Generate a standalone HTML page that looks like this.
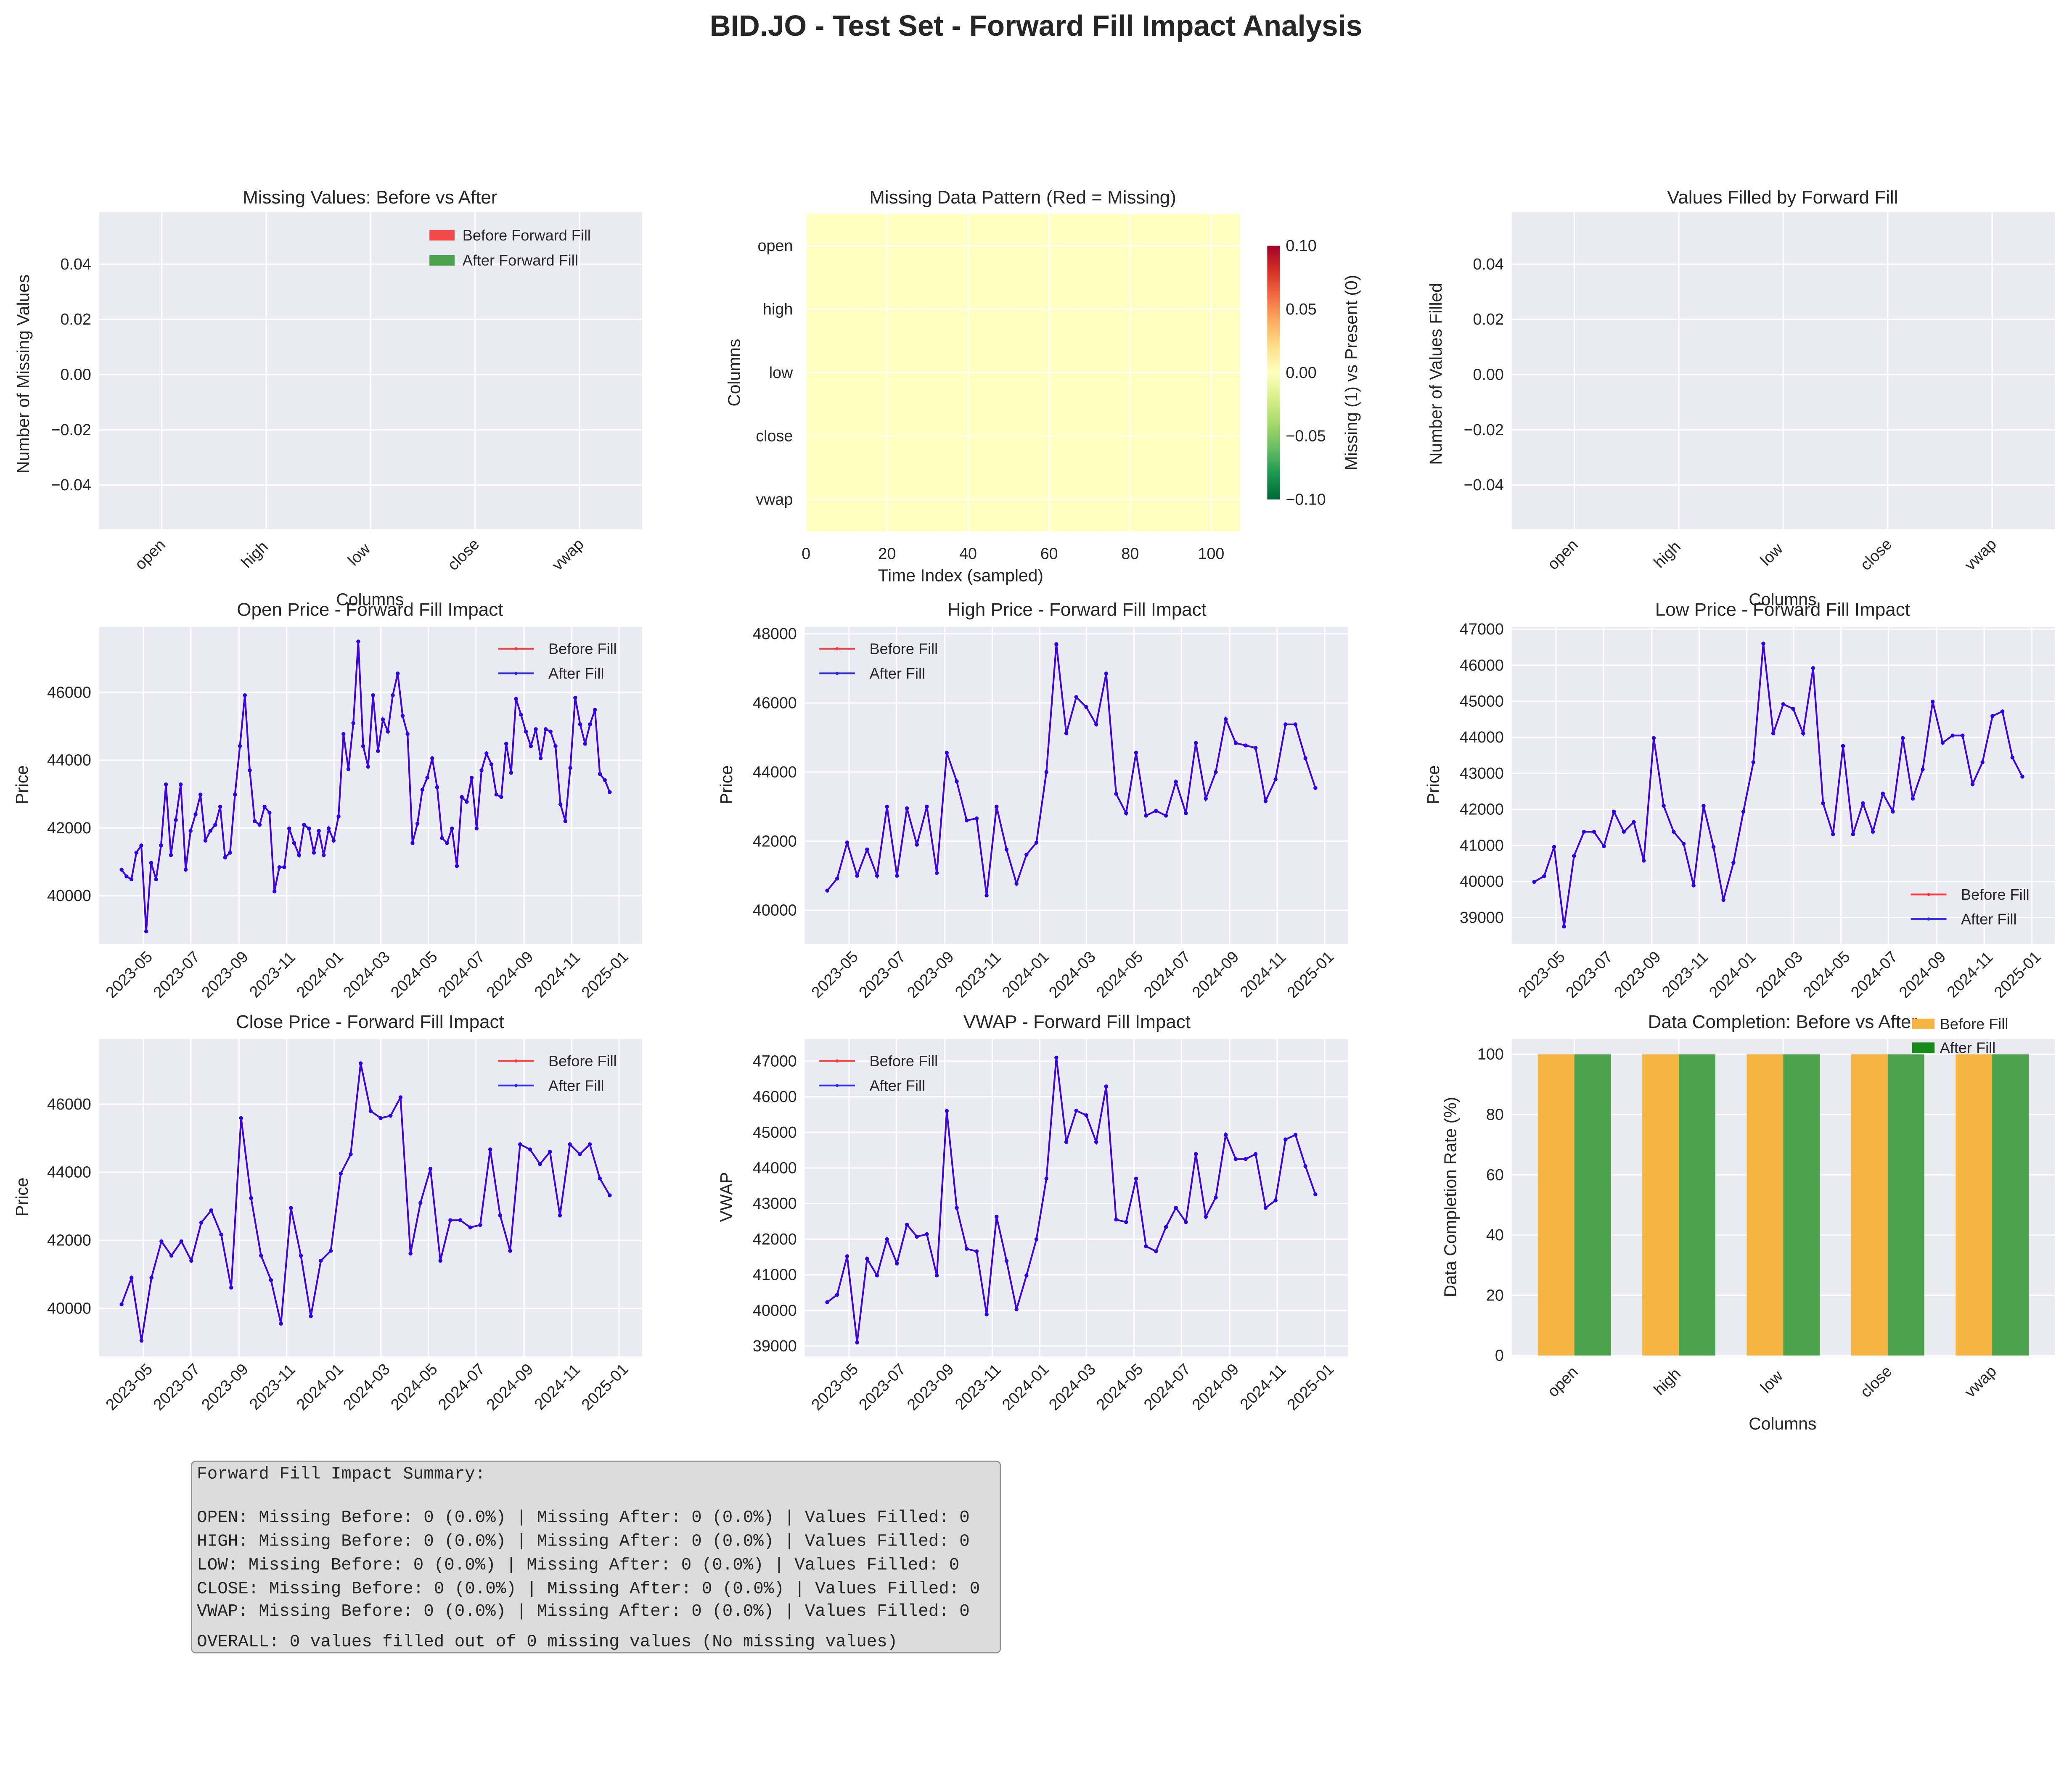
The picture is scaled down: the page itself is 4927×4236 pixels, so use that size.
<!DOCTYPE html>
<html><head><meta charset="utf-8"><title>BID.JO Forward Fill Impact Analysis</title>
<style>
html,body{margin:0;padding:0;background:#fff;}
svg{display:block;font-family:"Liberation Sans",Arial,sans-serif;}
.t{fill:#262626;}
</style></head>
<body>
<svg id="fig" xmlns="http://www.w3.org/2000/svg" width="4927" height="4236" viewBox="0 0 1568 1348">
<defs>
<linearGradient id="rdylgn" x1="0" y1="0" x2="0" y2="1">
<stop offset="0" stop-color="#a50026"/><stop offset="0.1" stop-color="#d73027"/><stop offset="0.2" stop-color="#f46d43"/><stop offset="0.3" stop-color="#fdae61"/><stop offset="0.4" stop-color="#fee08b"/><stop offset="0.5" stop-color="#ffffbf"/><stop offset="0.6" stop-color="#d9ef8b"/><stop offset="0.7" stop-color="#a6d96a"/><stop offset="0.8" stop-color="#66bd63"/><stop offset="0.9" stop-color="#1a9850"/><stop offset="1" stop-color="#006837"/>
</linearGradient>
</defs>
<rect x="0" y="0" width="1568" height="1348" fill="#ffffff"/>
<text x="784" y="27" text-anchor="middle" font-size="22" font-weight="bold" class="t">BID.JO - Test Set - Forward Fill Impact Analysis</text>

<text x="280" y="154" text-anchor="middle" font-size="14" class="t">Missing Values: Before vs After</text>
<text x="774" y="154" text-anchor="middle" font-size="14" class="t">Missing Data Pattern (Red = Missing)</text>
<text x="1349" y="154" text-anchor="middle" font-size="14" class="t">Values Filled by Forward Fill</text>
<text x="280" y="466" text-anchor="middle" font-size="14" class="t">Open Price - Forward Fill Impact</text>
<text x="815" y="466" text-anchor="middle" font-size="14" class="t">High Price - Forward Fill Impact</text>
<text x="1349" y="466" text-anchor="middle" font-size="14" class="t">Low Price - Forward Fill Impact</text>
<text x="280" y="778" text-anchor="middle" font-size="14" class="t">Close Price - Forward Fill Impact</text>
<text x="815" y="778" text-anchor="middle" font-size="14" class="t">VWAP - Forward Fill Impact</text>
<text x="1349" y="778" text-anchor="middle" font-size="14" class="t">Data Completion: Before vs After</text>

<text transform="translate(22,283) rotate(-90)" text-anchor="middle" font-size="13" class="t">Number of Missing Values</text>
<text x="280" y="458" text-anchor="middle" font-size="13" class="t">Columns</text>
<text transform="translate(1091,283) rotate(-90)" text-anchor="middle" font-size="13" class="t">Number of Values Filled</text>
<text x="1349" y="458" text-anchor="middle" font-size="13" class="t">Columns</text>
<text transform="translate(560,282) rotate(-90)" text-anchor="middle" font-size="13" class="t">Columns</text>
<text x="727" y="440" text-anchor="middle" font-size="13" class="t">Time Index (sampled)</text>
<text transform="translate(1027,282) rotate(-90)" text-anchor="middle" font-size="13" class="t">Missing (1) vs Present (0)</text>
<text transform="translate(21,594) rotate(-90)" text-anchor="middle" font-size="13" class="t">Price</text>
<text transform="translate(554,594) rotate(-90)" text-anchor="middle" font-size="13" class="t">Price</text>
<text transform="translate(1089,594) rotate(-90)" text-anchor="middle" font-size="13" class="t">Price</text>
<text transform="translate(21,906) rotate(-90)" text-anchor="middle" font-size="13" class="t">Price</text>
<text transform="translate(554,906) rotate(-90)" text-anchor="middle" font-size="13" class="t">VWAP</text>
<text transform="translate(1102,906) rotate(-90)" text-anchor="middle" font-size="13" class="t">Data Completion Rate (%)</text>
<text x="1349" y="1082" text-anchor="middle" font-size="13" class="t">Columns</text>

<g id="layer"></g>

<g>
<rect x="145" y="1106" width="612" height="145" rx="3" fill="#dcdcdc" stroke="#8c8c8c" stroke-width="0.8"/>
<g font-family="'Liberation Mono','DejaVu Sans Mono',monospace" font-size="13" class="t">
<text x="149" y="1119">Forward Fill Impact Summary:</text>
<text x="149" y="1152">OPEN: Missing Before: 0 (0.0%) | Missing After: 0 (0.0%) | Values Filled: 0</text>
<text x="149" y="1170">HIGH: Missing Before: 0 (0.0%) | Missing After: 0 (0.0%) | Values Filled: 0</text>
<text x="149" y="1188">LOW: Missing Before: 0 (0.0%) | Missing After: 0 (0.0%) | Values Filled: 0</text>
<text x="149" y="1206">CLOSE: Missing Before: 0 (0.0%) | Missing After: 0 (0.0%) | Values Filled: 0</text>
<text x="149" y="1223">VWAP: Missing Before: 0 (0.0%) | Missing After: 0 (0.0%) | Values Filled: 0</text>
<text x="149" y="1246">OVERALL: 0 values filled out of 0 missing values (No missing values)</text>
</g>
</g>
</svg>
<script>
const columns = ['open','high','low','close','vwap'];
const missingBefore = [0,0,0,0,0];
const missingAfter = [0,0,0,0,0];
const valuesFilled = [0,0,0,0,0];
const completionBefore = [100,100,100,100,100];
const completionAfter = [100,100,100,100,100];
const heatmapRows = 5;
const heatmapCols = 107;
const missingValueFill = 0;
const missingTicks = [-0.04,-0.02,0.00,0.02,0.04];
const colorbarTicks = [0.10,0.05,0.00,-0.05,-0.10];
const heatTicks = [0,20,40,60,80,100];
const completionTicks = [0,20,40,60,80,100];
const dateTickLabels = ['2023-05','2023-07','2023-09','2023-11','2024-01','2024-03','2024-05','2024-07','2024-09','2024-11','2025-01'];
const openTicks = [40000,42000,44000,46000];
const highTicks = [40000,42000,44000,46000,48000];
const lowTicks = [39000,40000,41000,42000,43000,44000,45000,46000,47000];
const closeTicks = [40000,42000,44000,46000];
const vwapTicks = [39000,40000,41000,42000,43000,44000,45000,46000,47000];
const seriesStart = '2023-04-03';
const seriesEnd = '2024-12-20';
const openValues = [40771,40571,40485,41271,41485,38950,40971,40485,41485,43285,41200,42235,43285,40771,41914,42400,42985,41628,41914,42093,42628,41128,41271,42985,44414,45914,43700,42200,42093,42628,42450,40128,40843,40843,41985,41557,41200,42093,41985,41271,41914,41200,41985,41628,42343,44771,43736,45093,47500,44414,43807,45914,44271,45200,44843,45914,46557,45307,44771,41557,42128,43128,43485,44057,43200,41700,41557,41985,40878,42914,42771,43485,41985,43700,44200,43878,42985,42914,44485,43628,45807,45343,44843,44414,44914,44057,44914,44843,44414,42700,42200,43771,45843,45057,44485,45057,45485,43593,43414,43057];
const highValues = [40570,40920,41960,41000,41760,41000,43000,41000,42950,41900,43000,41080,44560,43730,42600,42660,40430,43000,41760,40770,41610,41960,44000,47700,45120,46170,45880,45380,46850,43370,42810,44560,42740,42880,42740,43720,42810,44840,43230,44000,45530,44840,44770,44700,43160,43790,45380,45380,44400,43540];
const lowValues = [39990,40150,40960,38750,40710,41380,41380,40980,41940,41380,41650,40580,43980,42100,41380,41050,39890,42100,40960,39490,40520,41940,43310,46600,44110,44920,44790,44110,45920,42170,41310,43760,41310,42170,41380,42440,41940,43980,42300,43110,44990,43850,44050,44050,42700,43310,44590,44720,43440,42910];
const closeValues = [40120,40900,39050,40900,41970,41550,41970,41400,42520,42880,42170,40610,45590,43240,41550,40830,39550,42950,41550,39770,41400,41690,43960,44530,47200,45800,45590,45660,46200,41610,43100,44100,41400,42590,42590,42380,42450,44670,42730,41690,44820,44670,44240,44600,42730,44820,44530,44820,43820,43320];
const vwapValues = [40230,40440,41520,39100,41450,40980,42000,41320,42410,42070,42140,40980,45600,42880,41730,41660,39890,42630,41390,40030,40980,42000,43700,47100,44730,45610,45480,44730,46290,42550,42480,43700,41800,41660,42340,42880,42480,44390,42630,43170,44930,44250,44250,44390,42880,43090,44800,44930,44050,43260];

const NS = 'http://www.w3.org/2000/svg';
const layer = document.getElementById('layer');
function mk(tag, attrs, parent) {
  const e = document.createElementNS(NS, tag);
  for (const k in attrs) e.setAttribute(k, attrs[k]);
  (parent || layer).appendChild(e);
  return e;
}
function txt(s, attrs, parent) { const e = mk('text', attrs, parent); e.textContent = s; return e; }
const DAY = 86400000;
const PX_PER_DAY = 360 / 611;
const TICK0 = Date.UTC(2023, 4, 1);
const XMIN = TICK0 - (33.5 / PX_PER_DAY) * DAY;
function parseD(s) { const p = s.split('-').map(Number); return Date.UTC(p[0], p[1] - 1, p[2] || 1); }
function makeDates(n) {
  const a = parseD(seriesStart), b = parseD(seriesEnd), out = [];
  for (let i = 0; i < n; i++) out.push(a + (b - a) * i / (n - 1));
  return out;
}
function timeScale(left) { return d => left + (d - XMIN) / DAY * PX_PER_DAY; }
function linScale(d0, d1, r0, r1) { return v => r0 + (v - d0) / (d1 - d0) * (r1 - r0); }
function fmtTick(v, dec) { const s = Math.abs(v).toFixed(dec); return (v < 0 ? '\u2212' : '') + s; }

function axesBg(left, top, w, h, name) {
  const r = mk('rect', {x: left, y: top, width: w, height: h, fill: '#eaeaf2'});
  
  
}
function hGrid(y, left, w) {
  const l = mk('line', {x1: left, x2: left + w, y1: y, y2: y, stroke: '#ffffff', 'stroke-width': 1});
  
  
}
function vGrid(x, top, h) {
  const l = mk('line', {x1: x, x2: x, y1: top, y2: top + h, stroke: '#ffffff', 'stroke-width': 1});
  
  
}
function yLabel(s, x, y) {
  const t = txt(s, {x: x, y: y + 4, 'text-anchor': 'end', 'font-size': 12, class: 't'});
  
  
}
function rotLabel(s, x, y) {
  const t = txt(s, {transform: 'translate(' + x + ',' + y + ') rotate(-45)', 'text-anchor': 'middle', 'font-size': 12, class: 't'});
  
  
}

function catPanel(left, top, name, before, after, ticks, yscale, isCompletion) {
  const w = 411, h = 240;
  axesBg(left, top, w, h, name);
  const x = linScale(-0.6, 4.6, left, left + w);
  ticks.forEach(v => { const y = yscale(v); hGrid(y, left, w); yLabel(isCompletion ? String(v) : fmtTick(v, 2), left - 6, y); });
  columns.forEach((c, i) => { vGrid(x(i), top, h); rotLabel(c, x(i) - 6, top + h + 22); });
  const bw = 0.35;
  const c1 = isCompletion ? '#f6b443' : '#f24a4a';
  const c2 = '#4ca14c';
  columns.forEach((c, i) => {
    const y0 = yscale(0);
    const yb = yscale(before[i]);
    const r1 = mk('rect', {x: x(i - bw), y: Math.min(yb, y0), width: x(bw) - x(0), height: Math.abs(y0 - yb), fill: c1});
    
    
    const ya = yscale(after[i]);
    const r2 = mk('rect', {x: x(i), y: Math.min(ya, y0), width: x(bw) - x(0), height: Math.abs(y0 - ya), fill: c2});
    
    
  });
}
catPanel(75, 160.5, 'missing-values', missingBefore, missingAfter, missingTicks, linScale(0, 0.01, 283.5, 262.6), false);
catPanel(1144, 160.5, 'values-filled', valuesFilled, valuesFilled, missingTicks, linScale(0, 0.01, 283.5, 262.6), false);
catPanel(1144, 786.6, 'completion', completionBefore, completionAfter, completionTicks, linScale(0, 105, 1026, 786.6), true);

(function () {
  const items = [['Before Forward Fill', '#f24a4a'], ['After Forward Fill', '#4ca14c']];
  items.forEach((it, i) => {
    const r = mk('rect', {x: 325, y: 174 + i * 19, width: 19, height: 8, fill: it[1]});
    
    
    const t = txt(it[0], {x: 350, y: 182 + i * 19, 'font-size': 11.5, class: 't'});
    
    
  });
  const items2 = [['Before Fill', '#f6b443'], ['After Fill', '#168a16']];
  items2.forEach((it, i) => {
    const r = mk('rect', {x: 1447, y: 771 + i * 18, width: 17, height: 8, fill: it[1]});
    
    
    const t = txt(it[0], {x: 1468, y: 779 + i * 18, 'font-size': 11.5, class: 't'});
    
    
  });
})();

(function () {
  const left = 610, right = 938, top = 162, bottom = 402;
  const xs = linScale(0, heatmapCols, left, right);
  const ys = linScale(0, heatmapRows, top, bottom);
  const color = v => v > 0 ? '#a50026' : (v < 0 ? '#006837' : '#ffffbf');
  for (let r = 0; r < heatmapRows; r++) {
    for (let c = 0; c < heatmapCols; c++) {
      const cell = mk('rect', {x: xs(c), y: ys(r), width: xs(1) - xs(0) + 0.3, height: ys(1) - ys(0) + 0.3, fill: color(missingValueFill)});
      
      
    }
  }
  heatTicks.forEach(v => {
    vGrid(xs(v), top, bottom - top);
    const t = txt(String(v), {x: xs(v), y: 423, 'text-anchor': 'middle', 'font-size': 12, class: 't'});
    
    
  });
  columns.forEach((c, i) => {
    const y = ys(i + 0.5);
    hGrid(y, left, right - left);
    yLabel(c, 600, y);
  });
  const cb = mk('rect', {x: 959, y: 186, width: 9.5, height: 192, fill: 'url(#rdylgn)'});
  
  
  const cs = linScale(0.10, -0.10, 186, 378);
  colorbarTicks.forEach(v => {
    const t = txt(fmtTick(v, 2), {x: 973, y: cs(v) + 4, 'font-size': 12, class: 't'});
    
    
  });
})();

function seriesPanel(cfg) {
  const w = 411, h = 240;
  axesBg(cfg.left, cfg.top, w, h, cfg.name);
  const xs = timeScale(cfg.left);
  const ys = linScale(cfg.ymin, cfg.ymax, cfg.top + h, cfg.top);
  cfg.ticks.forEach(v => { hGrid(ys(v), cfg.left, w); yLabel(String(v), cfg.left - 6, ys(v)); });
  dateTickLabels.forEach(s => {
    const x = xs(parseD(s));
    vGrid(x, cfg.top, h);
    rotLabel(s, x - 8, cfg.top + h + 26);
  });
  const dates = makeDates(cfg.vals.length);
  let d = '';
  cfg.vals.forEach((v, i) => { d += (i ? 'L' : 'M') + xs(dates[i]).toFixed(2) + ',' + ys(v).toFixed(2); });
  const red = mk('path', {d: d, fill: 'none', stroke: '#ff2020', 'stroke-opacity': 0.8, 'stroke-width': 1.3});
  
  
  const blue = mk('path', {d: d, fill: 'none', stroke: '#2a00e6', 'stroke-opacity': 0.9, 'stroke-width': 1.3});
  
  
  cfg.vals.forEach((v, i) => {
    const p = mk('circle', {cx: xs(dates[i]), cy: ys(v), r: 1.5, fill: '#2a00e6'});
    
    
  });
  const lx = cfg.lx, ly = cfg.ly;
  [['Before Fill', '#ff3838'], ['After Fill', '#2a2af0']].forEach((it, i) => {
    const y = ly + i * 18.6;
    const l = mk('line', {x1: lx, x2: lx + 27, y1: y, y2: y, stroke: it[1], 'stroke-width': 1.3});
    
    
    const m = mk('circle', {cx: lx + 13.5, cy: y, r: 1.2, fill: it[1]});
    
    
    const t = txt(it[0], {x: lx + 38, y: y + 4, 'font-size': 11.5, class: 't'});
    
    
  });
}
seriesPanel({name: 'open', left: 75, top: 474.5, ymin: 38577, ymax: 47930, ticks: openTicks, vals: openValues, lx: 377, ly: 491});
seriesPanel({name: 'high', left: 609, top: 474.5, ymin: 39025, ymax: 48199, ticks: highTicks, vals: highValues, lx: 620, ly: 491});
seriesPanel({name: 'low', left: 1144, top: 474.5, ymin: 38267, ymax: 47062, ticks: lowTicks, vals: lowValues, lx: 1446, ly: 677});
seriesPanel({name: 'close', left: 75, top: 786.6, ymin: 38591, ymax: 47907, ticks: closeTicks, vals: closeValues, lx: 377, ly: 803});
seriesPanel({name: 'vwap', left: 609, top: 786.6, ymin: 38710, ymax: 47614, ticks: vwapTicks, vals: vwapValues, lx: 620, ly: 803});
</script>
</body></html>
